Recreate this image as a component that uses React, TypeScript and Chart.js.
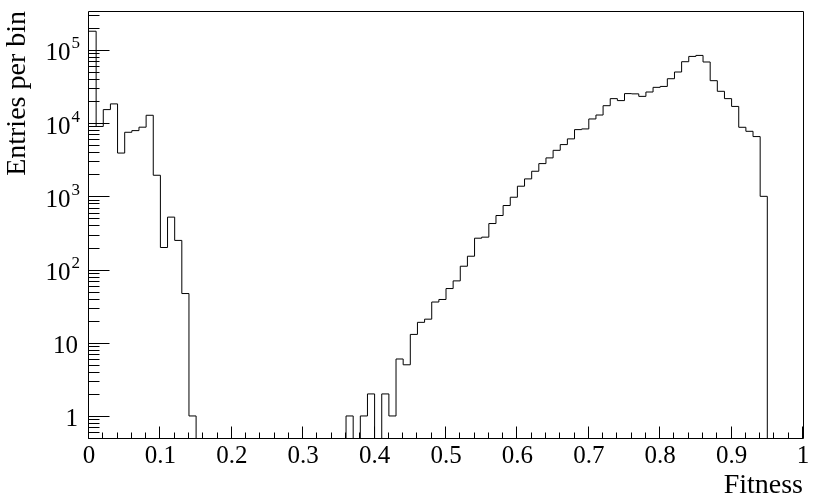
import React, { useEffect, useRef } from "react";
import { Chart, registerables } from "chart.js";

Chart.register(...registerables);

// ---- data ----
const binLow = 0;
const binWidth = 0.01;
// entries per bin, 100 bins from 0 to 1
const counts: number[] = [
  180000, 9000, 15300, 18300, 3900, 7500, 7900, 8800, 12800, 1940,
  200, 520, 250, 47, 1, 0, 0, 0, 0, 0,
  0, 0, 0, 0, 0, 0, 0, 0, 0, 0,
  0, 0, 0, 0, 0, 0, 1, 0, 1, 2,
  0, 2, 1, 6, 5, 13, 19, 21, 36, 39,
  55, 70, 111, 152, 268, 277, 425, 547, 749, 972,
  1375, 1730, 2200, 2800, 3350, 4250, 5090, 6090, 8150, 8330,
  11400, 12900, 17300, 21600, 20300, 25300, 25100, 23200, 26600, 30800,
  31700, 40400, 49900, 69000, 81500, 84100, 68400, 38000, 27200, 21600,
  16900, 8770, 7730, 6550, 1000, 0, 0, 0, 0, 0,
];
const xTickValues = [0, 0.1, 0.2, 0.3, 0.4, 0.5, 0.6, 0.7, 0.8, 0.9, 1];
const xTickLabels = ["0", "0.1", "0.2", "0.3", "0.4", "0.5", "0.6", "0.7", "0.8", "0.9", "1"];
const yTickValues = [1, 10, 100, 1000, 10000, 100000];
const yTickBases = ["1", "10", "10", "10", "10", "10"];
const yTickExponents = ["", "", "2", "3", "4", "5"];
const xTitle = "Fitness";
const yTitle = "Entries per bin";
const xMin = 0;
const xMax = 1;
const yMin = 0.5;
const yMax = 3.4e5;

const FONT = "'Liberation Serif', 'Times New Roman', serif";
const EMPTY = 1e-3; // empty bins drop below the frame (clipped)

const framePlugin = {
  id: "rootFrame",
  afterDraw(chart: any) {
    const { ctx, chartArea: a, scales } = chart;
    const xs = scales.x;
    const ys = scales.y;
    const L = a.left - 0.5;
    const R = a.right + 0.5;
    const T = a.top + 0.5;
    const B = a.bottom + 0.5;
    ctx.save();
    ctx.strokeStyle = "#000";
    ctx.lineWidth = 1;
    ctx.beginPath();
    ctx.rect(L, T, R - L, B - T);
    // x ticks (inside, pointing up)
    for (let k = 0; k <= 50; k++) {
      const v = xMin + (k * (xMax - xMin)) / 50;
      const px = Math.round(xs.getPixelForValue(v)) - 0.5;
      const len = k % 5 === 0 ? 12 : 6;
      ctx.moveTo(px, B);
      ctx.lineTo(px, B - len);
    }
    // y ticks (inside, pointing right)
    for (let d = -1; d <= 5; d++) {
      for (let m = 1; m <= 9; m++) {
        const v = m * Math.pow(10, d);
        if (v < yMin || v > yMax) continue;
        const py = Math.round(ys.getPixelForValue(v)) + 0.5;
        const len = m === 1 ? 21 : 11;
        ctx.moveTo(L, py);
        ctx.lineTo(L + len, py);
      }
    }
    ctx.stroke();

    // y tick labels with raised exponents
    ctx.fillStyle = "#000";
    ctx.textAlign = "right";
    ctx.textBaseline = "alphabetic";
    yTickValues.forEach((v, i) => {
      const py = ys.getPixelForValue(v);
      const base = yTickBases[i];
      const exp = yTickExponents[i];
      if (exp) {
        ctx.font = `17px ${FONT}`;
        const xr = a.left - 9;
        ctx.fillText(exp, xr, py - 1.5);
        const w = ctx.measureText(exp).width;
        ctx.font = `25px ${FONT}`;
        ctx.fillText(base, xr - w - 1, py + 10.5);
      } else {
        ctx.font = `25px ${FONT}`;
        ctx.fillText(base, a.left - 11, py + 10);
      }
    });
    ctx.restore();
  },
};

export default function App() {
  const ref = useRef<HTMLCanvasElement | null>(null);

  useEffect(() => {
    if (!ref.current) return;
    const pts = counts.map((c, i) => ({ x: binLow + i * binWidth, y: c > 0 ? c : EMPTY }));
    const last = counts[counts.length - 1];
    pts.push({ x: binLow + counts.length * binWidth, y: last > 0 ? last : EMPTY });

    const chart = new Chart(ref.current, {
      type: "line",
      data: {
        datasets: [
          {
            data: pts,
            borderColor: "#000",
            borderWidth: 1,
            pointRadius: 0,
            stepped: "before",
            fill: false,
          },
        ],
      },
      options: {
        animation: false,
        responsive: false,
        events: [],
        layout: { padding: { left: 0, right: 27, top: 11, bottom: 0 } },
        plugins: { legend: { display: false }, tooltip: { enabled: false } },
        scales: {
          x: {
            type: "linear",
            min: xMin,
            max: xMax,
            grid: { display: false, drawTicks: false },
            border: { display: false },
            afterBuildTicks: (s: any) => {
              s.ticks = xTickValues.map((v) => ({ value: v }));
            },
            afterFit: (s: any) => {
              s.height = 60;
              s.paddingLeft = 0;
              s.paddingRight = 0;
            },
            ticks: {
              autoSkip: false,
              maxRotation: 0,
              minRotation: 0,
              padding: 3,
              color: "#000",
              font: { family: FONT, size: 25 },
              callback: (v: any) => {
                const i = xTickValues.findIndex((t) => Math.abs(t - Number(v)) < 1e-9);
                return i >= 0 ? xTickLabels[i] : "";
              },
            },
            title: {
              display: true,
              text: xTitle,
              align: "end",
              color: "#000",
              font: { family: FONT, size: 28, lineHeight: 0.8 },
              padding: { top: 0, bottom: 1.3 },
            },
          },
          y: {
            type: "logarithmic",
            min: yMin,
            max: yMax,
            grid: { display: false, drawTicks: false },
            border: { display: false },
            afterBuildTicks: (s: any) => {
              s.ticks = yTickValues.map((v) => ({ value: v, major: true }));
            },
            afterFit: (s: any) => {
              s.width = 89;
              s.paddingTop = 0;
              s.paddingBottom = 0;
            },
            ticks: { display: false },
            title: {
              display: true,
              text: yTitle,
              align: "end",
              color: "#000",
              font: { family: FONT, size: 28, lineHeight: 1.2 },
              padding: { top: 1.2, bottom: 0 },
            },
          },
        },
      },
      plugins: [framePlugin],
    });
    return () => chart.destroy();
  }, []);

  return (
    <div style={{ position: "absolute", left: 0, top: 0, width: 830, height: 498, background: "#fff" }}>
      <canvas ref={ref} width={830} height={498} style={{ display: "block" }} />
    </div>
  );
}
